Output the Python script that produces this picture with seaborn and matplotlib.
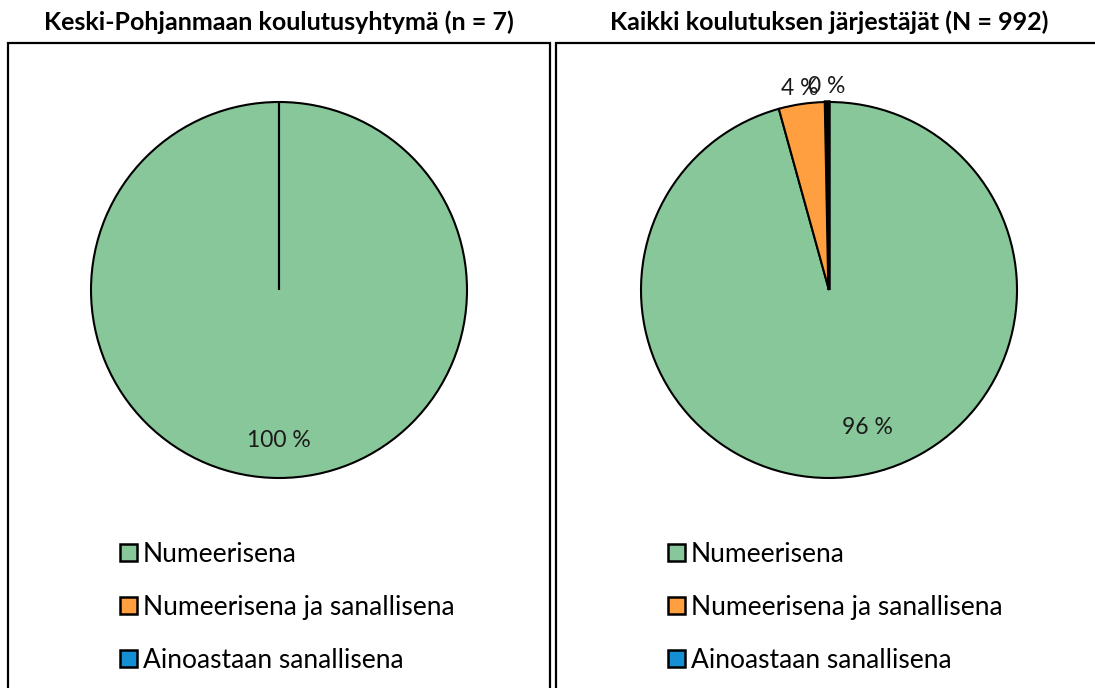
import numpy as np
import matplotlib
matplotlib.use("Agg")
import matplotlib.pyplot as plt
import seaborn as sns
from matplotlib.patches import Rectangle

sns.set_theme(style="white")
plt.rcParams['font.family'] = ['Lato', 'DejaVu Sans']

categories = ["Numeerisena", "Numeerisena ja sanallisena", "Ainoastaan sanallisena"]
left_values = [100.0, 0.0, 0.0]
right_values = [95.7, 4.0, 0.3]
left_labels = ["100 %", None, None]
right_labels = ["96 %", "4 %", "0 %"]
titles = ["Keski-Pohjanmaan koulutusyhtymä (n = 7)", "Kaikki koulutuksen järjestäjät (N = 992)"]
colors = ["#88C799", "#FF9F3F", "#158FD3"]

W, H = 1095, 688
fig = plt.figure(figsize=(W / 100, H / 100), dpi=100)

R = 188.0          # pie radius in px
span = 1.25        # axes half-extent in data units
centers = [(279, 290), (829, 290)]
panels = [(8, 43, 550), (556, 43, 1110)]
label_dist = [[0.8, 1.085, 1.085], [0.76, 1.085, 1.085]]
label_rot = [[0, 0, 0], [8, 0, 0]]

for i, (vals, labs) in enumerate([(left_values, left_labels), (right_values, right_labels)]):
    x0, y0, x1 = panels[i]
    fig.patches.append(Rectangle((x0 / W, -0.05), (x1 - x0) / W, (H - y0) / H + 0.05,
                                 transform=fig.transFigure, fill=False,
                                 edgecolor="black", linewidth=1.6, zorder=0))
    cx, cy = centers[i]
    half = R * span
    ax = fig.add_axes([(cx - half) / W, (H - cy - half) / H, 2 * half / W, 2 * half / H])
    wedges, _ = ax.pie(vals, colors=colors, startangle=90, counterclock=False,
                       radius=1.0, wedgeprops=dict(edgecolor="black", linewidth=1.5))
    if vals[2] > 0:
        wedges[2].set_linewidth(2.5)
    ax.set_xlim(-span, span)
    ax.set_ylim(-span, span)
    ax.set_aspect("equal")
    ax.axis("off")
    for j, w in enumerate(wedges):
        if labs[j] is None:
            continue
        mid = np.deg2rad((w.theta1 + w.theta2) / 2 + label_rot[i][j])
        d = label_dist[i][j]
        ax.text(d * np.cos(mid), d * np.sin(mid), labs[j], ha="center", va="center",
                fontsize=16.5, color="#1a1a1a")
    fig.text((cx) / W, (H - 22) / H, titles[i], ha="center", va="center",
             fontsize=18, fontweight="bold", color="black")
    leg = fig.legend(wedges, categories, loc="upper left",
                     bbox_to_anchor=((x0 + 112) / W, (H - 542) / H),
                     frameon=False, fontsize=19, handlelength=0.64, handleheight=0.64,
                     handletextpad=0.22, labelspacing=1.06, borderpad=0, borderaxespad=0)
    for t in leg.get_texts():
        t.set_color("black")
    for h in leg.legend_handles:
        h.set_edgecolor("black")
        h.set_linewidth(1.8)

fig.savefig("out.png", dpi=100, facecolor="white")
